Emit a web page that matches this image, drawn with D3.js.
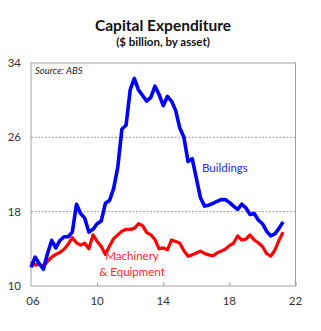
<!DOCTYPE html>
<html><head><meta charset="utf-8">
<script src="https://cdn.jsdelivr.net/npm/d3@7"></script>
<style>body{margin:0;background:#fff}svg{display:block}</style>
</head><body>
<script>
const startYear = 2006; // quarterly, first quarter 2006
const buildings = [12.0,13.1,12.4,11.8,13.5,14.9,14.1,14.9,15.3,15.3,15.8,18.8,17.8,17.3,15.8,16.1,16.7,17.0,18.9,19.2,20.5,22.8,26.9,27.3,31.1,32.35,31.1,30.5,29.9,30.3,31.5,30.6,29.4,30.4,29.9,28.9,27.0,26.0,23.4,23.7,21.6,19.5,18.6,18.7,18.9,19.1,19.3,19.3,19.0,18.6,18.25,18.8,18.4,17.7,17.8,17.1,16.7,15.9,15.4,15.6,16.2,16.9];
const machinery = [12.6,12.25,12.35,12.15,12.65,13.1,13.4,13.6,13.95,14.5,15.2,14.65,14.4,14.6,14.0,15.5,14.8,14.25,13.4,14.3,15.1,15.5,15.9,16.1,16.1,16.2,16.7,16.5,15.75,15.5,15.0,14.0,14.1,13.9,14.95,14.8,14.6,13.8,13.2,13.35,13.55,13.75,13.5,13.35,13.25,13.55,13.75,13.95,14.35,14.6,15.4,14.95,15.05,15.5,14.95,14.65,14.25,13.5,13.2,13.85,14.9,15.8];
const yTicks = [10,18,26,34];
const xTicks = [2006,2010,2014,2018,2022];
const xTickLabels = ["06","10","14","18","22"];
const gridValues = [18,26];

const W=321,H=331;
const m={l:31,r:295.5,t:63,b:286};
const svg=d3.select("body").append("svg").attr("width",W).attr("height",H);
const x=d3.scaleLinear().domain([2006,2022]).range([m.l,m.r]);
const y=d3.scaleLinear().domain([10,34]).range([m.b,m.t]);
const font="Lato, 'Open Sans', sans-serif";

svg.append("text").attr("x",163).attr("y",31).attr("text-anchor","middle")
  .attr("font-family",font).attr("font-weight","bold").attr("font-size",15.5).attr("fill","#111")
  .text("Capital Expenditure");
svg.append("text").attr("x",163).attr("y",46).attr("text-anchor","middle")
  .attr("font-family",font).attr("font-weight","bold").attr("font-size",11.5).attr("fill","#111")
  .text("($ billion, by asset)");

// grid
svg.selectAll("line.grid").data(gridValues).enter().append("line")
  .attr("x1",m.l).attr("x2",m.r).attr("y1",d=>y(d)).attr("y2",d=>y(d))
  .attr("stroke","#999").attr("stroke-width",1).attr("stroke-dasharray","2,1.5");

// frame
svg.append("rect").attr("x",m.l).attr("y",m.t).attr("width",m.r-m.l).attr("height",m.b-m.t)
  .attr("fill","none").attr("stroke","#a0a0a0").attr("stroke-width",1);

// x axis ticks (inward)
const xAxis=d3.axisTop(x).tickValues(xTicks.slice(1)).tickSize(4).tickFormat("");
const gx=svg.append("g").attr("transform",`translate(0,${m.b})`).call(xAxis);
gx.select(".domain").remove();
gx.selectAll("line").attr("stroke","#a0a0a0");

// x labels
svg.selectAll("text.xl").data(xTicks).enter().append("text")
  .attr("x",(d,i)=>x(d)+(i===0?2:0)).attr("y",305).attr("text-anchor","middle")
  .attr("font-family",font).attr("font-size",11.5).attr("fill","#333")
  .text((d,i)=>xTickLabels[i]);
// y labels
svg.selectAll("text.yl").data(yTicks).enter().append("text")
  .attr("x",21).attr("y",d=>y(d)+4).attr("text-anchor","end")
  .attr("font-family",font).attr("font-size",11.5).attr("fill","#333")
  .text(d=>d);

svg.append("text").attr("x",35).attr("y",74).attr("font-family",font).attr("font-style","italic")
  .attr("font-size",9.5).attr("fill","#222").text("Source: ABS");

const line=d3.line().x((d,i)=>x(startYear+i/4)).y(d=>y(d));
svg.append("path").datum(machinery).attr("d",line).attr("fill","none")
  .attr("stroke","#ff0000").attr("stroke-width",3.2).attr("stroke-linejoin","round");
svg.append("path").datum(buildings).attr("d",line).attr("fill","none")
  .attr("stroke","#0000ff").attr("stroke-width",3.6).attr("stroke-linejoin","round");

svg.append("text").attr("x",202).attr("y",172).attr("font-family",font).attr("font-size",11.5)
  .attr("fill","#2a2aff").text("Buildings");
svg.append("text").attr("x",132).attr("y",260).attr("text-anchor","middle").attr("font-family",font).attr("font-size",11.5)
  .attr("fill","#ff2a2a").text("Machinery");
svg.append("text").attr("x",132).attr("y",276).attr("text-anchor","middle").attr("font-family",font).attr("font-size",11.5)
  .attr("fill","#ff2a2a").text("& Equipment");
</script>
</body></html>
